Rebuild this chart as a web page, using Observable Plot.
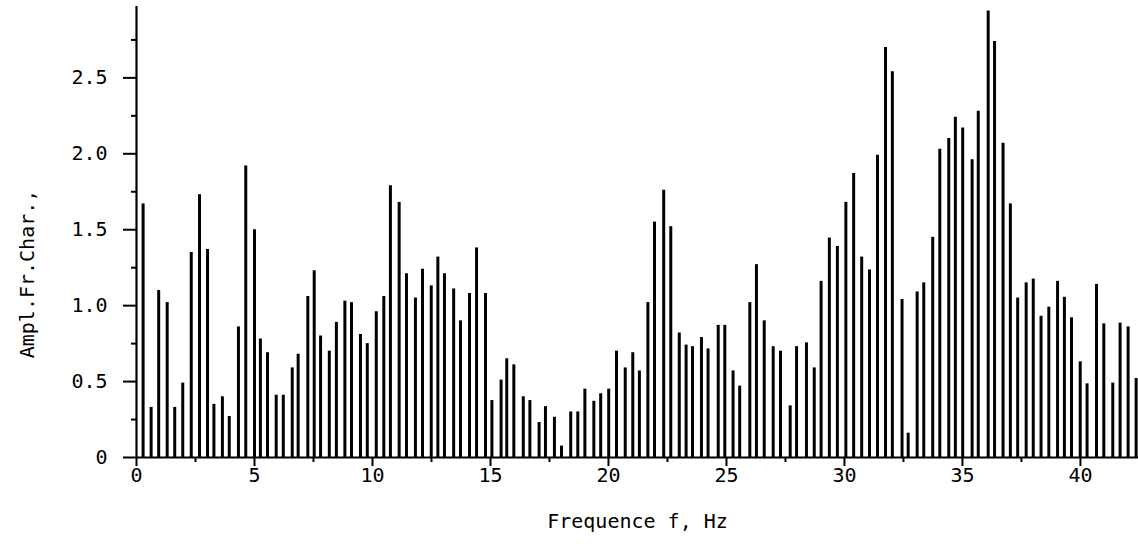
<!DOCTYPE html>
<html>
<head>
<meta charset="utf-8">
<script src="https://cdn.jsdelivr.net/npm/d3@7"></script>
<script src="https://cdn.jsdelivr.net/npm/@observablehq/plot@0.6"></script>
<style>
  html, body { margin: 0; padding: 0; background: #fff; }
  #chart { width: 1138px; height: 552px; }
</style>
</head>
<body>
<div id="chart"></div>
<script>
// Frequencies (Hz) of the spectral lines
const freq = [
  0.28, 0.62, 0.94, 1.30, 1.62, 1.96, 2.32, 2.67, 3.01, 3.28, 3.64, 3.93, 4.32, 4.63, 5.00, 5.25, 5.55, 5.92, 6.22, 6.60, 6.85,
  7.26, 7.53, 7.80, 8.17, 8.47, 8.83, 9.11, 9.49, 9.78, 10.16, 10.48, 10.76, 11.13, 11.44, 11.82, 12.12, 12.49, 12.77, 13.05, 13.44, 13.73,
  14.11, 14.41, 14.79, 15.06, 15.45, 15.69, 15.99, 16.39, 16.67, 17.06, 17.33, 17.71, 18.01, 18.40, 18.70, 19.00, 19.38, 19.67, 20.01, 20.34, 20.71, 21.03,
  21.31, 21.67, 21.95, 22.34, 22.64, 23.00, 23.29, 23.56, 23.94, 24.22, 24.65, 24.93, 25.28, 25.56, 25.99, 26.27, 26.60, 26.98, 27.29, 27.70, 27.97,
  28.39, 28.72, 29.01, 29.36, 29.70, 30.06, 30.39, 30.73, 31.06, 31.40, 31.74, 32.03, 32.44, 32.70, 33.08, 33.36, 33.74, 34.04, 34.42, 34.70, 35.01,
  35.41, 35.67, 36.09, 36.36, 36.72, 37.03, 37.34, 37.70, 38.00, 38.33, 38.66, 39.03, 39.32, 39.62, 39.99, 40.28, 40.68, 40.99, 41.37, 41.68, 42.02, 42.36
];
// Amplitude-frequency characteristic values
const amp = [
  1.67, 0.33, 1.10, 1.02, 0.33, 0.49, 1.35, 1.73, 1.37, 0.35, 0.40, 0.27, 0.86, 1.92, 1.50, 0.78, 0.69, 0.41, 0.41, 0.59, 0.68,
  1.06, 1.23, 0.80, 0.70, 0.89, 1.03, 1.02, 0.81, 0.75, 0.96, 1.06, 1.79, 1.68, 1.21, 1.05, 1.24, 1.13, 1.32, 1.21, 1.11, 0.90,
  1.08, 1.38, 1.08, 0.375, 0.51, 0.65, 0.61, 0.40, 0.375, 0.23, 0.335, 0.265, 0.075, 0.30, 0.30, 0.45, 0.37, 0.42, 0.45, 0.70, 0.59, 0.69,
  0.57, 1.02, 1.55, 1.76, 1.52, 0.82, 0.74, 0.73, 0.79, 0.715, 0.87, 0.87, 0.57, 0.47, 1.02, 1.27, 0.90, 0.73, 0.70, 0.34, 0.73,
  0.755, 0.59, 1.16, 1.445, 1.39, 1.68, 1.87, 1.32, 1.235, 1.99, 2.70, 2.54, 1.04, 0.16, 1.09, 1.15, 1.45, 2.03, 2.10, 2.24, 2.17,
  1.96, 2.28, 2.94, 2.74, 2.07, 1.67, 1.05, 1.15, 1.175, 0.93, 0.99, 1.16, 1.055, 0.92, 0.63, 0.485, 1.14, 0.88, 0.49, 0.885, 0.86, 0.52
];
const xMajorTicks = [0, 5, 10, 15, 20, 25, 30, 35, 40];
const xMinorTicks = [2.5, 7.5, 12.5, 17.5, 22.5, 27.5, 32.5, 37.5];
const yMajorTicks = [0, 0.5, 1.0, 1.5, 2.0, 2.5];
const yMinorTicks = [0.25, 0.75, 1.25, 1.75, 2.25, 2.75];
const xTitle = "Frequence f, Hz";
const yTitle = "Ampl.Fr.Char.,";

const data = freq.map((f, i) => ({f, v: amp[i]}));
const font = "DejaVu Sans Mono";

const chart = Plot.plot({
  width: 1138,
  height: 552,
  marginLeft: 136,
  marginRight: 0,
  marginTop: 6,
  marginBottom: 95,
  style: {fontFamily: font, fontSize: "20px", background: "#fff", color: "#000", overflow: "visible"},
  x: {domain: [0, 42.46], axis: null},
  y: {domain: [0, 2.97], axis: null},
  marks: [
    Plot.ruleX(data, {x: "f", y1: 0, y2: "v", stroke: "#000", strokeWidth: 3}),
    Plot.ruleY([0], {stroke: "#000", strokeWidth: 2.2}),
    Plot.ruleX([0], {stroke: "#000", strokeWidth: 2.2}),
    Plot.axisY({ticks: yMajorTicks, tickSize: 13, tickPadding: 16, strokeWidth: 2,
      tickFormat: d => d === 0 ? "0" : d.toFixed(1), label: null, fontSize: 20}),
    Plot.axisY({ticks: yMinorTicks, tickSize: 5, strokeWidth: 2, tickFormat: () => "", label: null}),
    Plot.axisX({ticks: xMajorTicks, tickSize: 9, tickPadding: 1, strokeWidth: 2,
      tickFormat: d => String(d), label: null, fontSize: 20}),
    Plot.axisX({ticks: xMinorTicks, tickSize: 5, strokeWidth: 2, tickFormat: () => "", label: null}),
    Plot.text([xTitle], {text: d => d, frameAnchor: "bottom", dy: 64, lineAnchor: "middle", fontSize: 20, fill: "#000"}),
    Plot.text([yTitle], {text: d => d, frameAnchor: "left", rotate: -90, dx: -109, dy: 42, lineAnchor: "middle", textAnchor: "middle", fontSize: 20, fill: "#000"})
  ]
});
document.getElementById("chart").appendChild(chart);
</script>
</body>
</html>
